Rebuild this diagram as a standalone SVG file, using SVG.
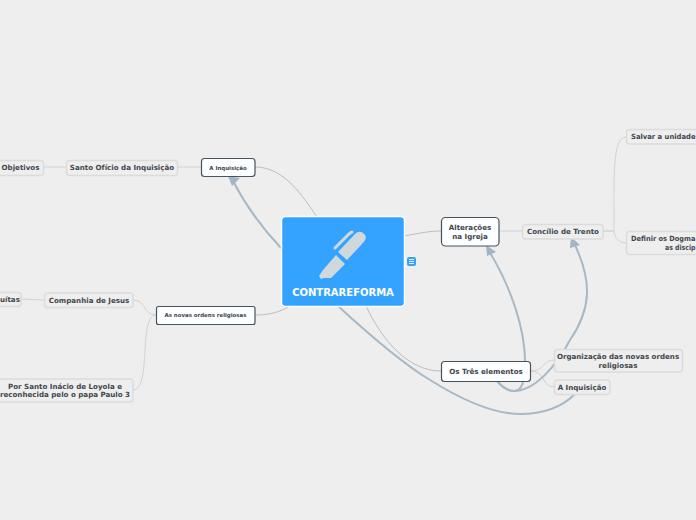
<svg xmlns="http://www.w3.org/2000/svg" width="696" height="520" viewBox="0 0 696 520">
<defs>
<style>
text{font-family:"DejaVu Sans",Verdana,sans-serif;font-weight:700;fill:#3f464d;text-anchor:middle}
.t{font-size:7.100px}
.s{font-size:5.450px}
.l{text-anchor:start}
.sub rect{fill:#eeeeee;stroke:#dcdcdc;stroke-width:1.5}
.main rect{fill:#fdfeff;stroke:#47535f;stroke-width:1.2}
.c path{fill:none;stroke:#d2d2d2;stroke-width:1}
.c path.b{stroke:#bdbdbd}
.r path{fill:none;stroke:#a8b8c4;stroke-width:2}
.h{fill:#a3b5c2}
</style>
</defs>
<rect width="696" height="520" fill="#eeeeee"/>
<g class="c" id="connectors">
<path class="b" d="M255 167C285 167 303 197 317 217"/>
<path class="b" d="M255 315C270 315 280 312 290 306"/>
<path class="b" d="M404 236C420 233 430 231 441 231"/>
<path class="b" d="M366 306C382 340 408 371 441 371"/>
<path d="M44 167H66"/>
<path d="M178 167H201"/>
<path d="M21 299L44 300"/>
<path d="M133 300C146 300 143 315 156 315"/>
<path d="M133 390C152 390 138 315 156 315"/>
<path d="M499 231H522"/>
<path d="M603 231H614C614 180 612 137 626 137"/>
<path d="M603 231H614C614 236 618 243 626 243"/>
<path d="M531 371C545 371 542 360 554 360"/>
<path d="M531 371C545 371 542 387 554 387"/>
</g>
<g class="r" id="relations">
<path d="M281 248C262 228 246 206 233 181"/>
<polygon class="h" points="228,176 240,178 232,186"/>
<path d="M338 306C375 340 405 365 430 380C470 405 500 414 520 414C545 414 563 406 575 394"/>
<path d="M497 381C503 388 509 391 514 391C522 391 525 380 525 365C526 330 510 285 489 251"/>
<polygon class="h" points="486,245 496,252 487,256"/>
<path d="M497 381C503 388 509 391 514 391C535 391 557 365 570 340C592 308 592 280 574 243"/>
<polygon class="h" points="571,237 580,245 570,248"/>
</g>
<g id="central">
<rect x="281.500" y="216.500" width="123" height="90" rx="4" fill="#33a3ff" stroke="#ffffff" stroke-width="1.500"/>
<path d="M319 276L323 270L336 255L345 264L331 278L324 278L321 279Z" fill="#cfd8dc"/>
<path d="M338 252L355 234C359 230 363 232 365 235C367 238 365 241 362 244L347 260Z" fill="#cfd8dc"/>
<path d="M335 248L349 234L352 232" fill="none" stroke="#cfd8dc" stroke-width="3" stroke-linecap="round"/>
<text x="343" y="296" style="fill:#ffffff;font-size:10px">CONTRAREFORMA</text>
</g>
<g id="note">
<rect x="407" y="257" width="9" height="9" rx="2" fill="#33a3ff"/>
<path d="M409 259.500h5M409 261.500h5M409 263.500h5" stroke="#e3f2ff" stroke-width="1"/>
</g>
<g class="main" id="n-inquisicao"><rect x="201.500" y="158.500" width="53.500" height="18" rx="3"/><text class="s" x="228" y="170">A Inquisição</text></g>
<g class="sub" id="n-santo"><rect x="66.500" y="160.500" width="111" height="15" rx="3"/><text class="t" x="122" y="170">Santo Ofício da Inquisição</text></g>
<g class="sub" id="n-objetivos"><rect x="-5" y="160.500" width="48.500" height="15" rx="3"/><text class="t" x="20.500" y="170">Objetivos</text></g>
<g class="main" id="n-ordens"><rect x="156.500" y="306.500" width="98.500" height="18" rx="2"/><text class="s" x="205.500" y="317">As novas ordens religiosas</text></g>
<g class="sub" id="n-companhia"><rect x="44.500" y="293" width="88.500" height="14.500" rx="3"/><text class="t" x="89" y="303">Companhia de Jesus</text></g>
<g class="sub" id="n-jesuitas"><rect x="-30" y="292.500" width="51" height="14" rx="3"/><text class="t l" x="0" y="302">uítas</text></g>
<g class="sub" id="n-santoinacio"><rect x="-10" y="379" width="143" height="23" rx="3"/><text class="t" x="65" y="388.500">Por Santo Inácio de Loyola e</text><text class="t" x="65" y="397">reconhecida pelo o papa Paulo 3</text></g>
<g class="main" id="n-alteracoes"><rect x="441.500" y="217.500" width="57.500" height="28.500" rx="4"/><text class="t" x="470" y="229.500">Alterações</text><text class="t" x="470" y="238.500">na Igreja</text></g>
<g class="sub" id="n-concilio"><rect x="522.500" y="224.500" width="80.500" height="14.500" rx="3"/><text class="t" x="563" y="234">Concílio de Trento</text></g>
<g class="sub" id="n-salvar"><rect x="626.500" y="129.500" width="120" height="14.500" rx="3"/><text class="t l" x="631" y="139" textLength="64.500" lengthAdjust="spacingAndGlyphs">Salvar a unidade</text></g>
<g class="sub" id="n-definir"><rect x="626.500" y="231.500" width="160" height="23" rx="3"/><text class="t l" x="631" y="240.500" textLength="64.500" lengthAdjust="spacingAndGlyphs">Definir os Dogma</text><text class="t l" x="665" y="249.500" textLength="30.500" lengthAdjust="spacingAndGlyphs">as discip</text></g>
<g class="main" id="n-tres"><rect x="441.500" y="361.500" width="89" height="20" rx="3"/><text class="t" x="486" y="374">Os Três elementos</text></g>
<g class="sub" id="n-organizacao"><rect x="554.500" y="349.500" width="128" height="22.500" rx="3"/><text class="t" x="618" y="358.500">Organização das novas ordens</text><text class="t" x="618" y="367.500">religiosas</text></g>
<g class="sub" id="n-inq2"><rect x="554.500" y="380" width="55.500" height="14.500" rx="3"/><text class="t" x="582" y="390">A Inquisição</text></g>
</svg>
